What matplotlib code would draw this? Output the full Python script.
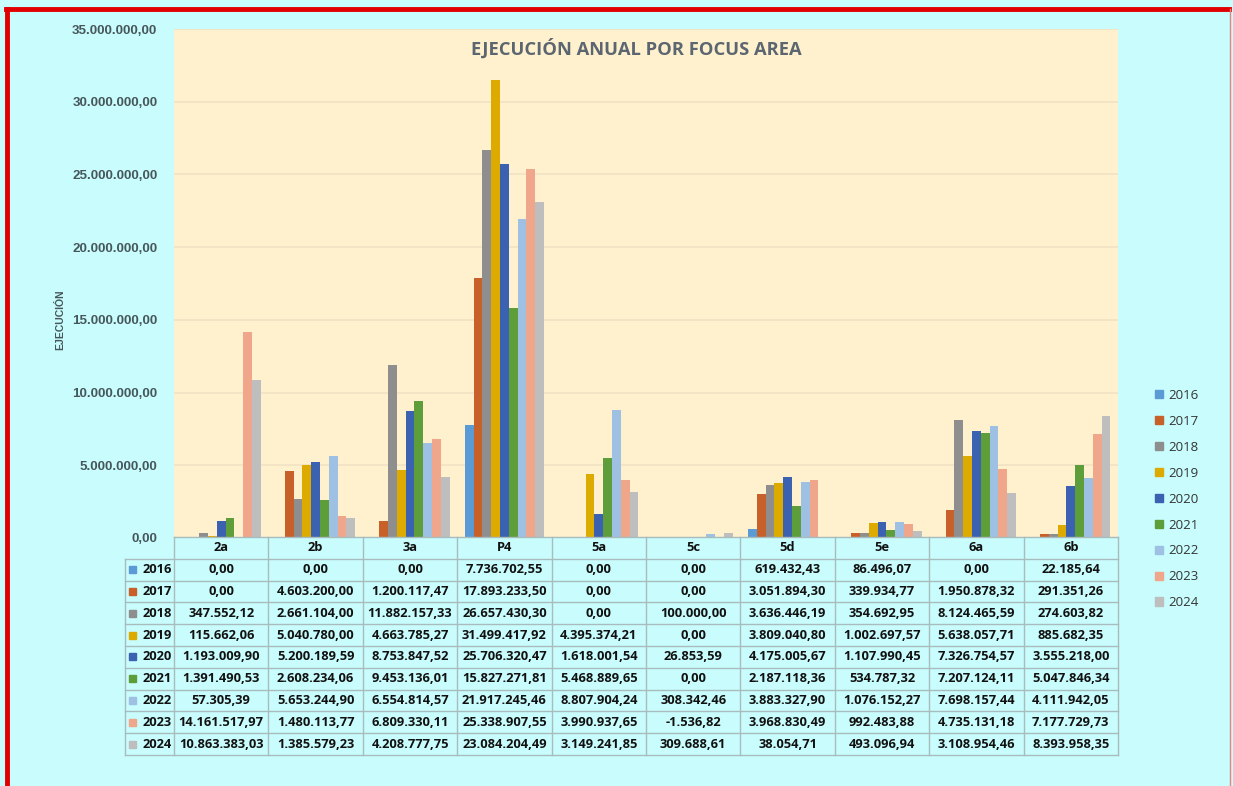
import matplotlib.pyplot as plt
import numpy as np
from matplotlib.patches import Rectangle
from matplotlib.lines import Line2D

# Data
areas = ['2a', '2b', '3a', 'P4', '5a', '5c', '5d', '5e', '6a', '6b']
years = ['2016', '2017', '2018', '2019', '2020', '2021', '2022', '2023', '2024']

v2016 = [0.00, 0.00, 0.00, 7736702.55, 0.00, 0.00, 619432.43, 86496.07, 0.00, 22185.64]
v2017 = [0.00, 4603200.00, 1200117.47, 17893233.50, 0.00, 0.00, 3051894.30, 339934.77, 1950878.32, 291351.26]
v2018 = [347552.12, 2661104.00, 11882157.33, 26657430.30, 0.00, 100000.00, 3636446.19, 354692.95, 8124465.59, 274603.82]
v2019 = [115662.06, 5040780.00, 4663785.27, 31499417.92, 4395374.21, 0.00, 3809040.80, 1002697.57, 5638057.71, 885682.35]
v2020 = [1193009.90, 5200189.59, 8753847.52, 25706320.47, 1618001.54, 26853.59, 4175005.67, 1107990.45, 7326754.57, 3555218.00]
v2021 = [1391490.53, 2608234.06, 9453136.01, 15827271.81, 5468889.65, 0.00, 2187118.36, 534787.32, 7207124.11, 5047846.34]
v2022 = [57305.39, 5653244.90, 6554814.57, 21917245.46, 8807904.24, 308342.46, 3883327.90, 1076152.27, 7698157.44, 4111942.05]
v2023 = [14161517.97, 1480113.77, 6809330.11, 25338907.55, 3990937.65, -1536.82, 3968830.49, 992483.88, 4735131.18, 7177729.73]
v2024 = [10863383.03, 1385579.23, 4208777.75, 23084204.49, 3149241.85, 309688.61, 38054.71, 493096.94, 3108954.46, 8393958.35]

series = [v2016, v2017, v2018, v2019, v2020, v2021, v2022, v2023, v2024]
colors = ['#5B9BD5', '#C8602A', '#8E8E8E', '#DDAA00', '#3A62B0',
          '#5E9E3A', '#9EC0E3', '#F0A68A', '#BEBEBE']

BG = '#C9FCFC'
PLOT_BG = '#FFF0CE'
TXT = '#46575C'


def fmt_es(v):
    s = f"{v:,.2f}"
    return s.replace(',', 'X').replace('.', ',').replace('X', '.')


W, H = 1233, 786
fig = plt.figure(figsize=(W / 100, H / 100), dpi=100, facecolor=BG)

# bar chart area (pixel based placement)
x0, x1 = 174, 1118
y_top, y_zero = 29, 538
ax = fig.add_axes([x0 / W, 1 - y_zero / H, (x1 - x0) / W, (y_zero - y_top) / H])
ax.set_facecolor(PLOT_BG)

n = len(series)
bw = 0.093
x = np.arange(len(areas))
for i, (vals, c) in enumerate(zip(series, colors)):
    ax.bar(x + (i - (n - 1) / 2) * bw, vals, width=bw, color=c, zorder=3)

ax.set_xlim(-0.5, len(areas) - 0.5)
ax.set_ylim(0, 35000000)
ax.set_yticks(np.arange(0, 35000001, 5000000))
ax.set_yticklabels([fmt_es(t) for t in ax.get_yticks()],
                   fontfamily='Liberation Sans', fontweight='bold',
                   fontsize=9.6, color=TXT)
ax.set_xticks([])
ax.tick_params(axis='y', length=0, pad=12)
ax.grid(axis='y', color='#F0E2C4', linewidth=1.2, zorder=0)
for s in ax.spines.values():
    s.set_visible(False)

ax.text(0.49, 0.962, 'EJECUCIÓN ANUAL POR FOCUS AREA', transform=ax.transAxes,
        ha='center', va='center', fontfamily='Open Sans', fontweight='bold',
        fontsize=13.2, color='#5B6670')

fig.text(60 / W, 1 - 320 / H, 'EJECUCIÓN', rotation=90, ha='center', va='center',
         fontfamily='Liberation Sans', fontweight='bold', fontsize=7.5, color=TXT)

# data table below the chart
t_left, t_top, t_bottom = 125, 537, 755
tax = fig.add_axes([t_left / W, 1 - t_bottom / H, (x1 - t_left) / W, (t_bottom - t_top) / H])
unit = (x1 - x0) / len(areas)
lab_w = (x0 - t_left) / unit
tax.set_xlim(-0.5 - lab_w, len(areas) - 0.5)
tax.set_ylim(len(years) + 1, 0)
tax.axis('off')

lc = '#A8BCBE'
nrow = len(years) + 1
# horizontal lines
for r in range(nrow + 1):
    xs = -0.5 if r == 0 else -0.5 - lab_w
    tax.plot([xs, len(areas) - 0.5], [r, r], color=lc, lw=1, clip_on=False)
# vertical lines
tax.plot([-0.5 - lab_w] * 2, [1, nrow], color=lc, lw=1, clip_on=False)
for c in range(len(areas) + 1):
    tax.plot([c - 0.5] * 2, [0, nrow], color=lc, lw=1, clip_on=False)

tfont = dict(fontfamily='Open Sans', fontweight='bold', fontsize=9.3, color='#111111')
sq_w = 7 / unit
sq_h = 7 / ((t_bottom - t_top) / nrow)
for j, a in enumerate(areas):
    tax.text(j, 0.5, a, ha='center', va='center', **tfont)
for i, (yr, vals, c) in enumerate(zip(years, series, colors)):
    r = i + 1.5
    tax.add_patch(Rectangle((-0.5 - lab_w + 0.04, r - sq_h / 2), sq_w, sq_h,
                            color=c, clip_on=False))
    tax.text(-0.52, r, yr, ha='right', va='center', **tfont)
    for j, v in enumerate(vals):
        tax.text(j, r, fmt_es(v), ha='center', va='center', **tfont)

# legend
handles = [Rectangle((0, 0), 1, 1, color=c) for c in colors]
fig.legend(handles, years, loc='upper left', bbox_to_anchor=(1143 / W, 1 - 377 / H),
           frameon=False, handlelength=0.6, handleheight=0.6, handletextpad=0.4,
           labelspacing=0.98, prop={'family': 'Open Sans', 'size': 9.5}, labelcolor='#333333')

# red frame
fig.add_artist(Line2D([6 / W, 1229 / W], [1 - 9 / H, 1 - 9 / H], color='#E00000', lw=3.5))
fig.add_artist(Line2D([7 / W, 7 / W], [0, 1 - 9 / H], color='#E00000', lw=3.5))
fig.add_artist(Line2D([1230 / W, 1230 / W], [0, 1 - 9 / H], color='#F08080', lw=1))

fig.savefig('out.png', dpi=100, facecolor=BG)
